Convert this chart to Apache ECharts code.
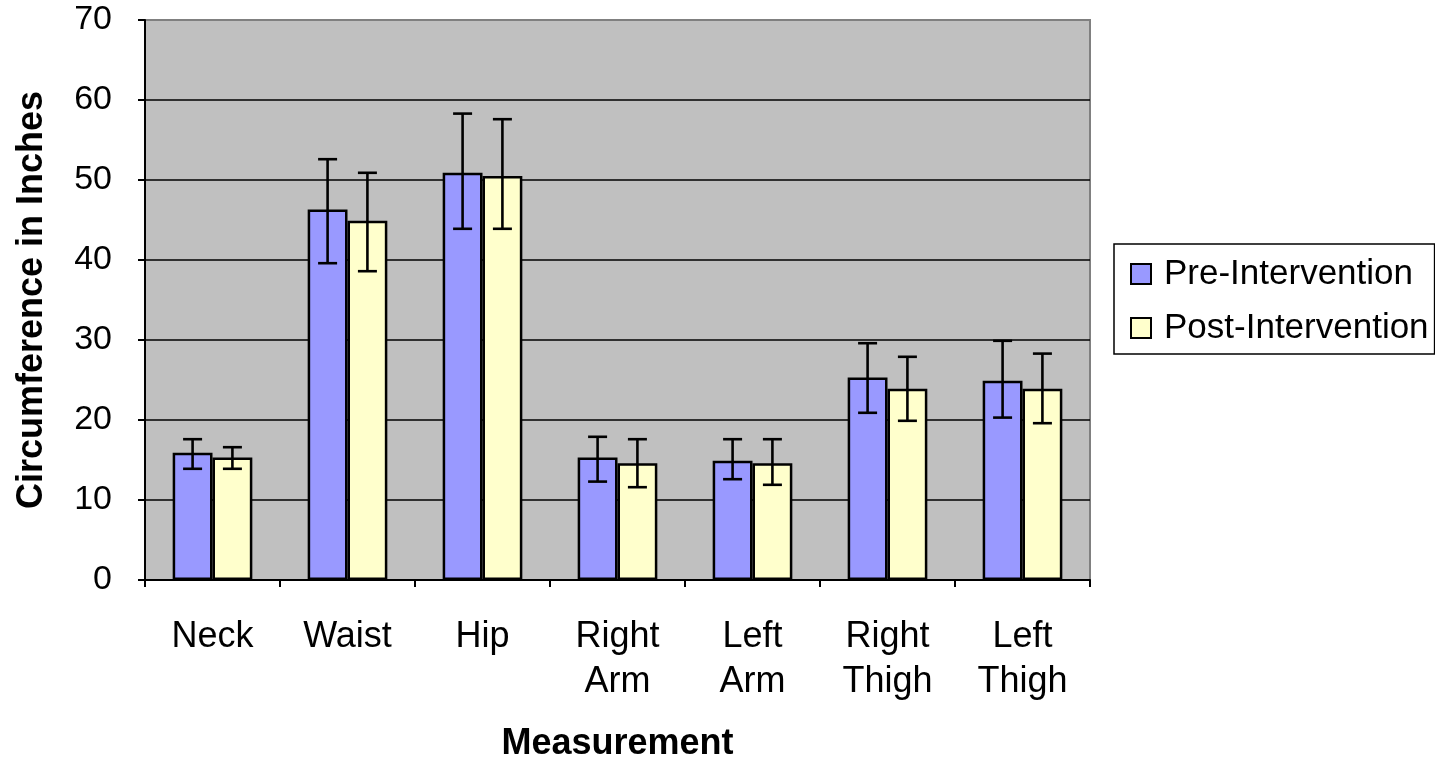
<!DOCTYPE html>
<html>
<head>
<meta charset="utf-8">
<script src="https://cdn.jsdelivr.net/npm/echarts@6/dist/echarts.min.js"></script>
<style>html,body{margin:0;padding:0;background:#fff}#c{width:1435px;height:759px}</style>
</head>
<body>
<div id="c"></div>
<script>
var categories = ['Neck', 'Waist', 'Hip', 'Right\nArm', 'Left\nArm', 'Right\nThigh', 'Left\nThigh'];
var preValues  = [15.9, 46.3, 50.9, 15.3, 14.9, 25.3, 24.9];
var postValues = [15.3, 44.9, 50.5, 14.6, 14.6, 23.9, 23.9];
var preLow   = [13.9, 39.6, 43.9, 12.3, 12.6, 20.9, 20.3];
var preHigh  = [17.6, 52.6, 58.3, 17.9, 17.6, 29.6, 29.9];
var postLow  = [13.9, 38.6, 43.9, 11.6, 11.9, 19.9, 19.6];
var postHigh = [16.6, 50.9, 57.6, 17.6, 17.6, 27.9, 28.3];
var yTicks = [0, 10, 20, 30, 40, 50, 60, 70];

var FONT = '"Liberation Sans", Arial, sans-serif';
var GAP = 0.41;

function errData(low, high) {
  return low.map(function (l, i) { return [i, l, high[i]]; });
}
function errRender(side) {
  return function (params, api) {
    var i = api.value(0);
    var lo = api.coord([i, api.value(1)]);
    var hi = api.coord([i, api.value(2)]);
    var band = api.size([1, 0])[0];
    var bw = band * (1 - GAP) / 2;
    var x = lo[0] + side * bw / 2;
    var cap = 9.5;
    var st = { stroke: '#000', lineWidth: 2.6 };
    return {
      type: 'group',
      children: [
        { type: 'line', shape: { x1: x, y1: lo[1], x2: x, y2: hi[1] }, style: st },
        { type: 'line', shape: { x1: x - cap, y1: lo[1], x2: x + cap, y2: lo[1] }, style: st },
        { type: 'line', shape: { x1: x - cap, y1: hi[1], x2: x + cap, y2: hi[1] }, style: st }
      ]
    };
  };
}

var chart = echarts.init(document.getElementById('c'));
chart.setOption({
  animation: false,
  textStyle: { fontFamily: FONT },
  grid: {
    left: 145, right: 345, top: 20, bottom: 179,
    outerBoundsMode: 'none', containLabel: false,
    show: true, backgroundColor: '#C0C0C0', borderColor: '#808080', borderWidth: 2
  },
  legend: {
    orient: 'vertical',
    left: 1114, top: 244,
    backgroundColor: '#fff', borderColor: '#000', borderWidth: 1.5,
    padding: [12, 6, 8, 16],
    itemWidth: 20, itemHeight: 20, itemGap: 18,
    icon: 'rect',
    textStyle: { fontSize: 35, lineHeight: 36, color: '#000', fontFamily: FONT, padding: [0, 0, 0, 8] },
    data: ['Pre-Intervention', 'Post-Intervention']
  },
  xAxis: {
    type: 'category',
    data: categories,
    boundaryGap: true,
    name: 'Measurement',
    nameLocation: 'middle',
    nameGap: 146,
    nameTextStyle: { fontSize: 36, fontWeight: 'bold', color: '#000', fontFamily: FONT },
    axisLine: { lineStyle: { color: '#000', width: 2 } },
    axisTick: { show: true, length: 7, interval: 0, lineStyle: { color: '#000', width: 2 } },
    axisLabel: { fontSize: 36, color: '#000', margin: 35, lineHeight: 45, interval: 0, fontFamily: FONT },
    splitLine: { show: false }
  },
  yAxis: {
    type: 'value',
    min: yTicks[0], max: yTicks[yTicks.length - 1], interval: 10,
    name: 'Circumference in Inches',
    nameLocation: 'middle',
    nameGap: 95,
    nameTextStyle: { fontSize: 36, fontWeight: 'bold', color: '#000', fontFamily: FONT },
    axisLine: { show: true, lineStyle: { color: '#000', width: 2 } },
    axisTick: { show: true, length: 7, lineStyle: { color: '#000', width: 2 } },
    axisLabel: { fontSize: 34, color: '#000', margin: 33, fontFamily: FONT },
    splitLine: { show: true, lineStyle: { color: ['#000', '#000', '#000', '#000', '#000', '#000', '#000', '#808080'], width: 1.5 } }
  },
  series: [
    {
      name: 'Pre-Intervention', type: 'bar', data: preValues,
      barCategoryGap: (GAP * 100) + '%', barGap: '0%',
      itemStyle: { color: '#9999FF', borderColor: '#000', borderWidth: 2.5 }
    },
    {
      name: 'Post-Intervention', type: 'bar', data: postValues,
      barCategoryGap: (GAP * 100) + '%', barGap: '0%',
      itemStyle: { color: '#FFFFCC', borderColor: '#000', borderWidth: 2.5 }
    },
    {
      type: 'custom', name: 'preErr', data: errData(preLow, preHigh),
      renderItem: errRender(-1), encode: { x: 0, y: [1, 2] }, z: 5, silent: true
    },
    {
      type: 'custom', name: 'postErr', data: errData(postLow, postHigh),
      renderItem: errRender(1), encode: { x: 0, y: [1, 2] }, z: 5, silent: true
    }
  ]
});
</script>
</body>
</html>
